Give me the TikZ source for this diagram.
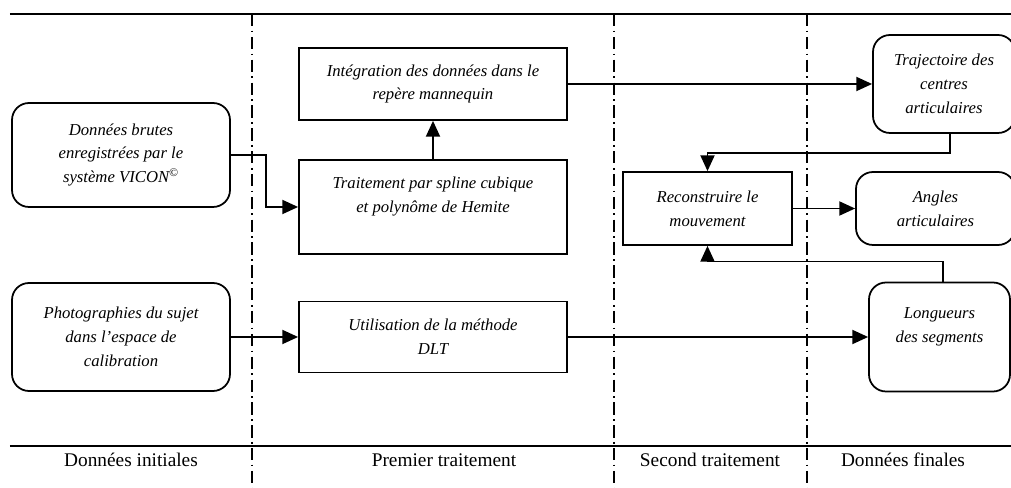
\documentclass[tikz,border=0pt]{standalone}
\usepackage{fontspec}
\setmainfont{Liberation Serif}
\usetikzlibrary{arrows.meta}
\begin{document}
\begin{tikzpicture}[>={Triangle[length=9pt,width=8pt]},line width=1pt,
    boite/.style={draw,align=center,font=\fontsize{9.5}{13.6}\selectfont\itshape,inner sep=2pt},
    rond/.style={boite,rounded corners=0.34cm},
    sep/.style={line width=0.9pt,dash pattern=on 7pt off 2.5pt on 1pt off 2.5pt},
    titre/.style={font=\fontsize{11}{13}\selectfont}]
\useasboundingbox (0,0) rectangle (20.22,9.76);
\draw(0.2,9.48)--(20.22,9.48);
\draw(0.2,0.84)--(20.22,0.84);
\draw[sep](5.04,9.48)--(5.04,0);
\draw[sep](12.28,9.48)--(12.28,0);
\draw[sep](16.14,9.48)--(16.14,0);
\node[titre](t1) at (2.62,0.56){Données initiales};
\node[titre](t2) at (8.88,0.56){Premier traitement};
\node[titre](t3) at (14.2,0.56){Second traitement};
\node[titre](t4) at (18.06,0.56){Données finales};
\node[rond,minimum width=4.36cm,minimum height=2.08cm](brutes) at (2.42,6.66){Données brutes\\ enregistrées par le\\ système VICON\textsuperscript{©}};
\node[rond,minimum width=4.36cm,minimum height=2.16cm](photos) at (2.42,3.02){Photographies du sujet\\ dans l'espace de\\ calibration};
\node[boite,minimum width=5.36cm,minimum height=1.44cm](integ) at (8.66,8.08){Intégration des données dans le\\ repère mannequin};
\node[boite,minimum width=5.36cm,minimum height=1.88cm](spline) at (8.66,5.62){Traitement par spline cubique\\ et polynôme de Hemite\\ \mbox{}};
\node[boite,minimum width=5.36cm,minimum height=1.42cm](dlt) at (8.66,3.02){Utilisation de la méthode\\ DLT};
\node[boite,minimum width=3.38cm,minimum height=1.46cm](recon) at (14.15,5.59){Reconstruire le\\ mouvement};
\node[rond,minimum width=2.84cm,minimum height=1.96cm](traj) at (18.88,8.08){Trajectoire des\\ centres\\ articulaires};
\node[rond,minimum width=3.18cm,minimum height=1.46cm](angles) at (18.71,5.59){Angles\\ articulaires};
\node[rond,minimum width=2.82cm,minimum height=2.18cm](longueurs) at (18.79,3.02){Longueurs\\ des segments\\ \mbox{}};
\draw[->](brutes.east)--++(0.7,0)|-(spline.west);
\draw[->](spline.north)--(integ.south);
\draw[->](integ.east)--(traj.west);
\draw[->]([xshift=0.12cm]traj.south)--++(0,-0.38)-|(recon.north);
\draw[->](recon.east)--(angles.west);
\draw[->]([xshift=0.07cm]longueurs.north)--++(0,0.4)-|(recon.south);
\draw[->](photos.east)--(dlt.west);
\draw[->](dlt.east)--(longueurs.west);
\end{tikzpicture}
\end{document}
